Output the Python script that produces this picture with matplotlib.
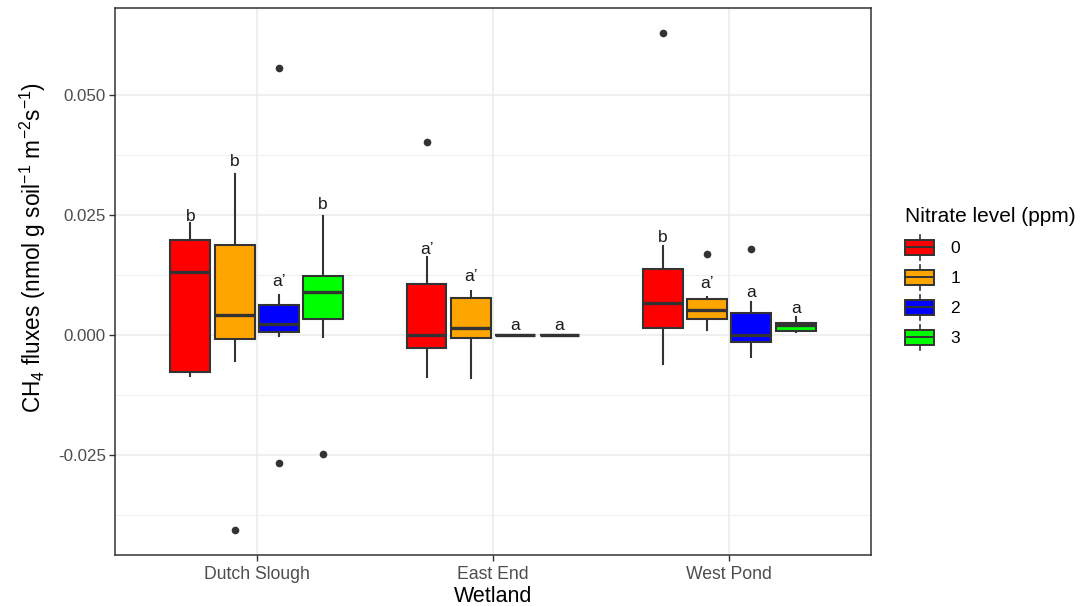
import matplotlib
matplotlib.use("Agg")
import matplotlib.pyplot as plt
from matplotlib.patches import Rectangle
from matplotlib.lines import Line2D
from matplotlib.legend_handler import HandlerBase
import numpy as np

plt.rcParams['font.family'] = ['Liberation Sans', 'DejaVu Sans']
plt.rcParams['mathtext.fontset'] = 'custom'
plt.rcParams['mathtext.rm'] = 'Liberation Sans'
plt.rcParams['mathtext.it'] = 'Liberation Sans:italic'

wetlands = ["Dutch Slough", "East End", "West Pond"]
levels = ["0", "1", "2", "3"]
colors = ["#FF0000", "#FFA500", "#0000FF", "#00FF00"]

# per wetland: list over nitrate levels 0..3
whislo = [[-0.0085, -0.0054, -0.0001, -0.0004],
          [-0.0087, -0.0090, 0.0000, 0.0000],
          [-0.0061, 0.0010, -0.0045, 0.0006]]
q1 = [[-0.0076, -0.0008, 0.0006, 0.0034],
      [-0.0027, -0.0006, 0.0000, 0.0000],
      [0.0015, 0.0033, -0.0015, 0.0009]]
med = [[0.0131, 0.0042, 0.0022, 0.0089],
       [0.0001, 0.0015, 0.0000, 0.0000],
       [0.0066, 0.0052, 0.0001, 0.0021]]
q3 = [[0.0197, 0.0188, 0.0063, 0.0122],
      [0.0106, 0.0078, 0.0000, 0.0000],
      [0.0137, 0.0076, 0.0045, 0.0026]]
whishi = [[0.0234, 0.0335, 0.0083, 0.0248],
          [0.0163, 0.0092, 0.0000, 0.0000],
          [0.0185, 0.0079, 0.0069, 0.0038]]
fliers = [[[], [-0.0406], [0.0556, -0.0267], [-0.0248]],
          [[0.0402], [], [], []],
          [[0.0629], [0.0168], [0.0179], []]]
letters = [["b", "b", "a\u2019", "b"],
           ["a\u2019", "a\u2019", "a", "a"],
           ["b", "a\u2019", "a", "a"]]
letter_y = [[0.0238, 0.0352, 0.0102, 0.0262],
            [0.0169, 0.0113, 0.0010, 0.0010],
            [0.0193, 0.0097, 0.0079, 0.0045]]

fig = plt.figure(figsize=(10.89, 6.06), dpi=100)
ax = fig.add_axes([115/1089, 1 - 555/606, (871 - 115)/1089, (555 - 8)/606])

edge = "#333333"
dodge = 0.75 / 4
bw = dodge * 0.9
for gi, w in enumerate(wetlands):
    for li in range(len(levels)):
        pos = gi + 1 + (li - 1.5) * dodge
        st = dict(med=med[gi][li], q1=q1[gi][li], q3=q3[gi][li],
                  whislo=whislo[gi][li], whishi=whishi[gi][li],
                  fliers=fliers[gi][li])
        ax.bxp([st], positions=[pos], widths=bw, patch_artist=True,
               showcaps=False, manage_ticks=False,
               boxprops=dict(facecolor=colors[li], edgecolor=edge, linewidth=1.5),
               medianprops=dict(color=edge, linewidth=2.4, solid_capstyle='butt'),
               whiskerprops=dict(color=edge, linewidth=1.5),
               flierprops=dict(marker='o', markerfacecolor=edge, markeredgecolor=edge,
                               markersize=4.5, linestyle='none'),
               zorder=3)
        ax.text(pos, letter_y[gi][li], letters[gi][li], ha='center', va='baseline',
                fontsize=12.5, color='#1A1A1A', zorder=4)

ax.set_xlim(0.4, 3.6)
ax.set_ylim(-0.0458, 0.0681)
ax.set_xticks([1, 2, 3])
ax.set_xticklabels(wetlands)
yt = [-0.025, 0.0, 0.025, 0.05]
ax.set_yticks(yt)
ax.set_yticklabels(["-0.025", "0.000", "0.025", "0.050"])
ax.set_yticks([-0.0375, -0.0125, 0.0125, 0.0375], minor=True)
ax.tick_params(axis='both', which='major', colors='#333333', length=4, width=1,
               labelcolor='#4D4D4D')
ax.tick_params(axis='y', which='major', labelsize=12.2, pad=2.5)
ax.tick_params(axis='x', which='major', labelsize=12.7, pad=4)
ax.tick_params(axis='y', which='minor', length=0)
ax.grid(True, which='major', color='#EBEBEB', linewidth=1.1, zorder=0)
ax.grid(True, which='minor', axis='y', color='#EBEBEB', linewidth=0.6, zorder=0)
ax.set_axisbelow(True)
for s in ax.spines.values():
    s.set_color('#333333')
    s.set_linewidth(1.1)

ax.set_xlabel("Wetland", fontsize=15.5, labelpad=2)
ax.set_ylabel(r"CH$_4$ fluxes (nmol g soil$^{-1}$ m$^{-2}$s$^{-1}$)", fontsize=16.3, labelpad=5)
ax.yaxis.set_label_coords(-0.089, 0.563)


class BoxHandler(HandlerBase):
    def create_artists(self, legend, orig_handle, xdescent, ydescent, width, height, fontsize, trans):
        fc = orig_handle.get_facecolor()
        h = height * 1.0
        y0 = -ydescent + (height - h) / 2
        rect = Rectangle((-xdescent, y0), width, h, facecolor=fc, edgecolor=edge,
                         linewidth=1.4, transform=trans)
        cx = -xdescent + width / 2
        m = Line2D([-xdescent, -xdescent + width], [y0 + h / 2] * 2, color=edge, lw=1.4, transform=trans)
        w1 = Line2D([cx, cx], [y0 + h, y0 + h + 3.5], color=edge, lw=1.2, transform=trans)
        w2 = Line2D([cx, cx], [y0 - 3.5, y0], color=edge, lw=1.2, transform=trans)
        return [w1, w2, rect, m]


handles = [Rectangle((0, 0), 1, 1, facecolor=c) for c in colors]
leg = fig.legend(handles, levels, handler_map={Rectangle: BoxHandler()},
                 title="Nitrate level (ppm)", loc='upper left',
                 bbox_to_anchor=(900/1089, 1 - 202/606), frameon=False,
                 fontsize=12.5, title_fontsize=15, handlelength=1.65, handleheight=0.95,
                 labelspacing=0.78, handletextpad=0.95, alignment='left',
                 borderaxespad=0, borderpad=0.3)

fig.savefig("out.png", dpi=100)
